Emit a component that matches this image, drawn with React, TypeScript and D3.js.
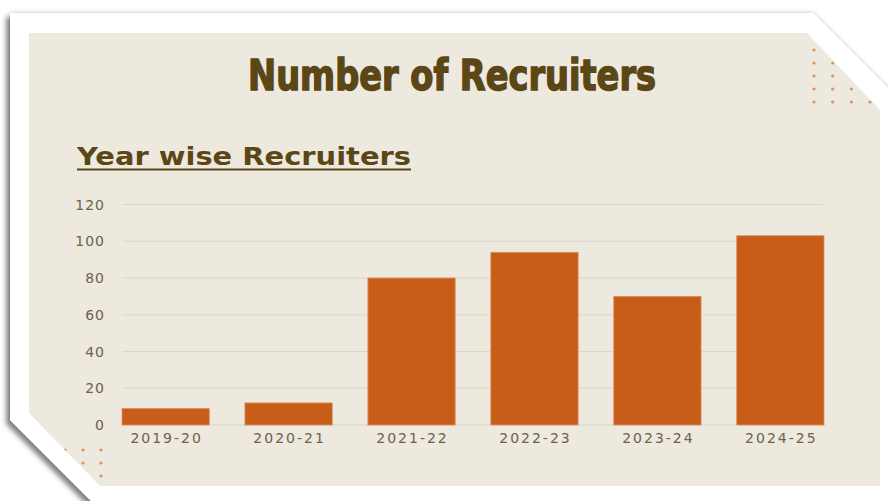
import * as d3 from "d3";

// chart data
const years = ["2019-20", "2020-21", "2021-22", "2022-23", "2023-24", "2024-25"];
const recruiters = [9, 12, 80, 94, 70, 103];
const yTicks = [0, 20, 40, 60, 80, 100, 120];

const W = 888;
const H = 501;

const ink = "#5b4616";
const labelColor = "#6d604c";
const barColor = "#c85d1a";
const paper = "#ede9df";

// page frame (white card with cut corners) and the inner beige panel
const framePts: [number, number][] = [
  [10, 13], [813, 13], [905, 105], [905, 520], [110, 520], [10, 420],
];
const panelPts: [number, number][] = [
  [29, 33], [807, 33], [880, 110], [880, 486], [100, 486], [29, 413],
];

const toPath = (pts: [number, number][]) =>
  "M" + pts.map((p) => p.join(",")).join("L") + "Z";

export default function App() {
  const x = d3
    .scaleBand<string>()
    .domain(years)
    .range([122, 824])
    .paddingInner(0.29)
    .paddingOuter(0);

  const y = d3.scaleLinear().domain([0, 120]).range([425, 204.5]);

  // decorative dot grids, clipped by the panel outline
  const dotsTR = d3.range(4).flatMap((c) =>
    d3.range(5).map((r) => [814 + c * 18.7, 50 + r * 13])
  );
  const dotsBL = d3.range(3).flatMap((c) =>
    d3.range(3).map((r) => [65 + c * 18, 450 + r * 13])
  );

  return (
    <div style={{ width: W, height: H }}>
      <style>{`body{margin:0}`}</style>
      <svg width={W} height={H} style={{ display: "block" }}>
        <defs>
          <filter id="shadow" x="-10%" y="-10%" width="120%" height="130%">
            <feGaussianBlur in="SourceAlpha" stdDeviation="2.5" result="b1" />
            <feFlood floodColor="#000" floodOpacity="0.22" />
            <feComposite in2="b1" operator="in" result="s1" />
            <feGaussianBlur in="SourceAlpha" stdDeviation="2.5" result="b2" />
            <feOffset in="b2" dx="-4" dy="4" result="o2" />
            <feFlood floodColor="#000" floodOpacity="0.45" />
            <feComposite in2="o2" operator="in" result="s2" />
            <feMerge>
              <feMergeNode in="s1" />
              <feMergeNode in="s2" />
              <feMergeNode in="SourceGraphic" />
            </feMerge>
          </filter>
          <clipPath id="panelClip">
            <path d={toPath(panelPts)} />
          </clipPath>
        </defs>

        <rect width={W} height={H} fill="#ffffff" />
        <path d={toPath(framePts)} fill="#ffffff" filter="url(#shadow)" />
        <path d={toPath(panelPts)} fill={paper} />

        <g clipPath="url(#panelClip)" fill="#e0925a">
          {dotsTR.concat(dotsBL).map(([cx, cy], i) => (
            <circle key={i} cx={cx} cy={cy} r={1.6} />
          ))}
        </g>

        {/* title */}
        <text
          x={452}
          y={90}
          textAnchor="middle"
          fontFamily="'Liberation Sans Narrow', 'DejaVu Sans Condensed', 'DejaVu Sans', sans-serif"
          fontWeight="bold"
          fontSize={42}
          fill={ink}
          stroke={ink}
          strokeWidth={1.4}
          textLength={408}
          lengthAdjust="spacingAndGlyphs"
        >
          Number of Recruiters
        </text>

        {/* subtitle */}
        <text
          x={77}
          y={165}
          fontFamily="'DejaVu Sans', Verdana, sans-serif"
          fontWeight="bold"
          fontSize={24}
          fill={ink}
          textLength={334}
          lengthAdjust="spacingAndGlyphs"
        >
          Year wise Recruiters
        </text>
        <line x1={77} x2={411} y1={169.5} y2={169.5} stroke={ink} strokeWidth={2} />

        {/* grid */}
        <g>
          {yTicks.map((t) => (
            <line
              key={t}
              x1={122}
              x2={823}
              y1={y(t)}
              y2={y(t)}
              stroke="#dcd5c9"
              strokeWidth={1.2}
            />
          ))}
        </g>

        {/* y labels */}
        <g
          fontFamily="'DejaVu Sans', sans-serif"
          fontSize={14}
          fill={labelColor}
          textAnchor="end"
          letterSpacing={1}
        >
          {yTicks.map((t) => (
            <text key={t} x={105} y={y(t) + 5}>
              {t}
            </text>
          ))}
        </g>

        {/* bars */}
        <g>
          {years.map((yr, i) => (
            <rect
              key={yr}
              x={x(yr)}
              y={y(recruiters[i])}
              width={x.bandwidth()}
              height={y(0) - y(recruiters[i])}
              fill={barColor}
              stroke="#dd9060"
              strokeWidth={0.8}
            />
          ))}
        </g>

        {/* x labels */}
        <g
          fontFamily="'DejaVu Sans', sans-serif"
          fontSize={14}
          fill={labelColor}
          textAnchor="middle"
          letterSpacing={2}
        >
          {years.map((yr) => (
            <text key={yr} x={(x(yr) ?? 0) + x.bandwidth() / 2 + 1} y={443}>
              {yr}
            </text>
          ))}
        </g>
      </svg>
    </div>
  );
}
